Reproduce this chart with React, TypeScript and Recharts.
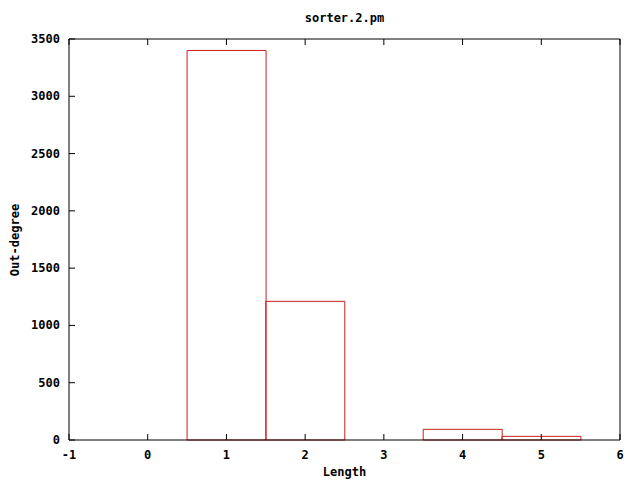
import React from 'react'
import { ComposedChart, Bar, XAxis, YAxis } from 'recharts'

const lengths = [1, 2, 4, 5]
const outDegree = [3400, 1210, 93, 32]
const xTicks = [-1, 0, 1, 2, 3, 4, 5, 6]
const yTicks = [0, 500, 1000, 1500, 2000, 2500, 3000, 3500]

const data = lengths.map((len, i) => ({ length: len, count: outDegree[i] }))

const font = '"DejaVu Sans Mono", monospace'
const TICK = 6

// gnuplot style: ticks point into the plot, labels outside
const BottomTick = (props: any) => {
  const { x, y, payload } = props
  return (
    <g>
      <line x1={x} x2={x} y1={y - 10} y2={y - 10 - TICK} stroke="#000" />
      <text x={x} y={y + 9} textAnchor="middle" fontFamily={font} fontSize={12} fontWeight="bold" fill="#000">
        {payload.value}
      </text>
    </g>
  )
}

const LeftTick = (props: any) => {
  const { x, y, payload } = props
  return (
    <g>
      <line x1={x + 9} x2={x + 9 + TICK} y1={y} y2={y} stroke="#000" />
      <text x={x} y={y + 4} textAnchor="end" fontFamily={font} fontSize={12} fontWeight="bold" fill="#000">
        {payload.value}
      </text>
    </g>
  )
}

const TopTick = (props: any) => {
  const { x, y } = props
  return <line x1={x} x2={x} y1={y} y2={y + TICK} stroke="#000" />
}

const RightTick = (props: any) => {
  const { x, y } = props
  return <line x1={x} x2={x - TICK} y1={y} y2={y} stroke="#000" />
}

export default function App() {
  return (
    <div style={{ position: 'absolute', left: 0, top: 0, width: 640, height: 480, background: '#fff' }}>
      <div
        style={{
          position: 'absolute', left: 69, width: 551, top: 11, textAlign: 'center',
          fontFamily: font, fontSize: 12, fontWeight: 'bold', color: '#000',
        }}
      >
        sorter.2.pm
      </div>
      <div
        style={{
          position: 'absolute', left: 69, width: 551, top: 465, textAlign: 'center',
          fontFamily: font, fontSize: 12, fontWeight: 'bold', color: '#000',
        }}
      >
        Length
      </div>
      <div
        style={{
          position: 'absolute', left: 15, top: 240, transform: 'translate(-50%, -50%) rotate(-90deg)',
          fontFamily: font, fontSize: 12, fontWeight: 'bold', color: '#000', whiteSpace: 'nowrap',
        }}
      >
        Out-degree
      </div>
      <ComposedChart
        width={640}
        height={480}
        data={data}
        margin={{ top: 38, right: 19, left: 9, bottom: 0 }}
        barCategoryGap={0}
        barGap={0}
      >
        <Bar dataKey="count" fill="none" stroke="#cc1f1f" strokeWidth={1} isAnimationActive={false} />
        <XAxis
          dataKey="length"
          type="number"
          domain={[-1, 6]}
          ticks={xTicks}
          allowDataOverflow
          height={40}
          stroke="#000"
          tickLine={false}
          tickSize={0}
          tickMargin={10}
          tick={<BottomTick />}
        />
        <XAxis
          xAxisId="top"
          orientation="top"
          dataKey="length"
          type="number"
          domain={[-1, 6]}
          ticks={xTicks}
          allowDataOverflow
          height={1}
          stroke="#000"
          tickLine={false}
          tickSize={0}
          tickMargin={0}
          tick={<TopTick />}
        />
        <YAxis
          type="number"
          domain={[0, 3500]}
          ticks={yTicks}
          width={60}
          stroke="#000"
          tickLine={false}
          tickSize={0}
          tickMargin={9}
          tick={<LeftTick />}
        />
        <YAxis
          yAxisId="right"
          orientation="right"
          type="number"
          domain={[0, 3500]}
          ticks={yTicks}
          width={1}
          stroke="#000"
          tickLine={false}
          tickSize={0}
          tickMargin={0}
          tick={<RightTick />}
        />
      </ComposedChart>
    </div>
  )
}
